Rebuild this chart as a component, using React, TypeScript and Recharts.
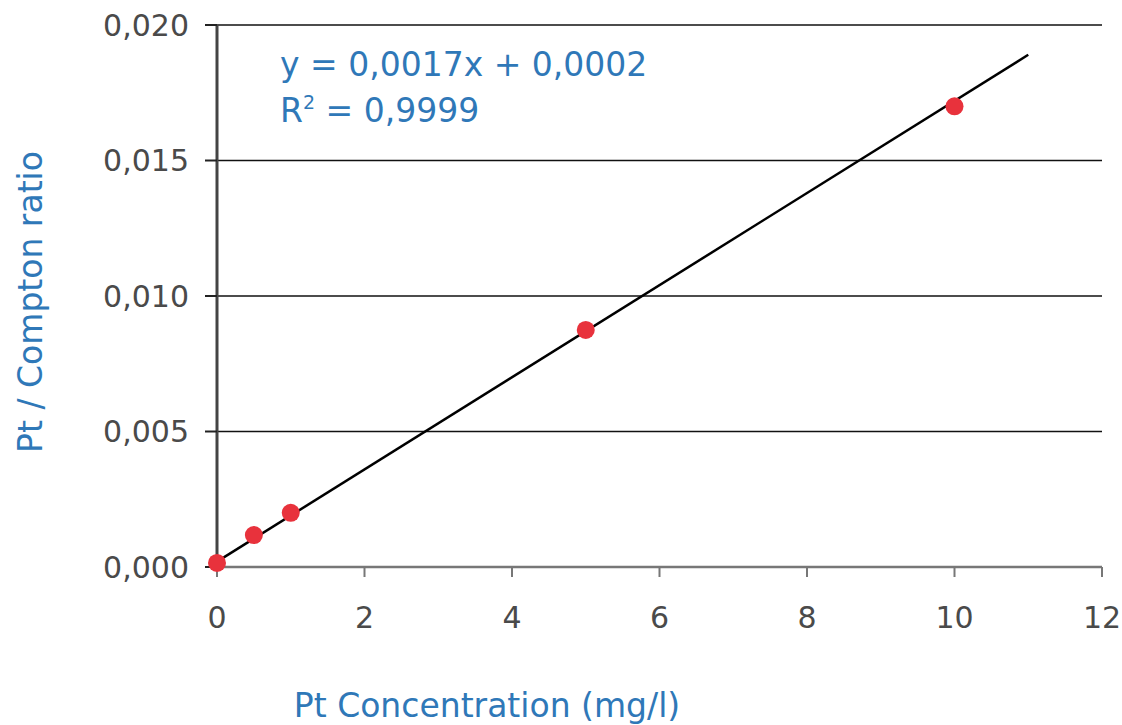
import {
  ComposedChart,
  Scatter,
  Line,
  XAxis,
  YAxis,
  CartesianGrid,
  Label,
} from "recharts";

// measured calibration points
const concentration = [0, 0.5, 1, 5, 10];
const ratio = [0.00015, 0.00118, 0.002, 0.00875, 0.017];

// linear fit drawn from x=0 to x=11
const fitX = [0, 11];
const fitY = [0.0002, 0.0189];

const xTicks = [0, 2, 4, 6, 8, 10, 12];
const yTicks = [0, 0.005, 0.01, 0.015, 0.02];

const equationText = "y = 0,0017x + 0,0002";
const r2Value = "0,9999";

const BLUE = "#2f78b8";
const FONT = "DejaVu Sans";

const points = concentration.map((x, i) => ({ x, y: ratio[i] }));
const fitLine = fitX.map((x, i) => ({ x, y: fitY[i] }));

function fmtY(v: number) {
  return v.toFixed(3).replace(".", ",");
}

function Dot(props: any) {
  const { cx, cy } = props;
  return <circle cx={cx} cy={cy} r={9} fill="#e8323c" />;
}

export default function App() {
  const tick = { fontSize: 30, fill: "#4a4a4a", fontFamily: FONT };
  return (
    <div style={{ position: "relative", width: 1122, height: 725, background: "#fff" }}>
      <style>{`body{margin:0}`}</style>
      <ComposedChart
        width={1122}
        height={725}
        margin={{ top: 25, right: 20, bottom: 0, left: 0 }}
      >
        <CartesianGrid vertical={false} stroke="#111" strokeWidth={1.6} />
        <XAxis
          type="number"
          dataKey="x"
          domain={[0, 12]}
          ticks={xTicks}
          height={158}
          tick={tick}
          tickSize={10}
          tickMargin={30}
          stroke="#777"
          strokeWidth={2.5}
          tickLine={{ stroke: "#777", strokeWidth: 2 }}
        >
          <Label
            content={(p: any) => {
              const vb = p.viewBox;
              return (
                <text
                  x={vb.x + 270}
                  y={vb.y + 138}
                  textAnchor="middle"
                  dominantBaseline="central"
                  fill={BLUE}
                  fontSize={33}
                  fontFamily={FONT}
                >
                  Pt Concentration (mg/l)
                </text>
              );
            }}
          />
        </XAxis>
        <XAxis
          xAxisId="top"
          orientation="top"
          type="number"
          domain={[0, 12]}
          height={0}
          tick={false}
          tickLine={false}
          stroke="#8a8a8a"
          strokeWidth={3}
        />
        <YAxis
          type="number"
          dataKey="y"
          domain={[0, 0.02]}
          ticks={yTicks}
          width={217}
          tick={tick}
          tickFormatter={fmtY}
          tickSize={12}
          tickMargin={16}
          stroke="#444"
          strokeWidth={3}
          tickLine={{ stroke: "#222", strokeWidth: 2 }}
        >
          <Label
            content={(p: any) => {
              const vb = p.viewBox;
              const cy = vb.y + vb.height / 2 + 6;
              return (
                <text
                  x={30}
                  y={cy}
                  transform={`rotate(-90 30 ${cy})`}
                  textAnchor="middle"
                  dominantBaseline="central"
                  fill={BLUE}
                  fontSize={33}
                  fontFamily={FONT}
                >
                  Pt / Compton ratio
                </text>
              );
            }}
          />
        </YAxis>
        <YAxis
          yAxisId="right"
          orientation="right"
          type="number"
          domain={[0, 0.02]}
          width={0}
          tick={false}
          tickLine={false}
          stroke="#8a8a8a"
          strokeWidth={3}
        />
        <Scatter data={points} shape={<Dot />} isAnimationActive={false} />
        <Line
          data={fitLine}
          dataKey="y"
          type="linear"
          stroke="#000"
          strokeWidth={2.5}
          dot={false}
          activeDot={false}
          isAnimationActive={false}
        />
      </ComposedChart>
      <div
        style={{
          position: "absolute",
          left: 280,
          top: 42,
          color: BLUE,
          fontSize: 33,
          fontFamily: FONT,
          lineHeight: "46px",
          whiteSpace: "nowrap",
        }}
      >
        <div>{equationText}</div>
        <div>
          R
          <span style={{ fontSize: 19, position: "relative", top: -13 }}>2</span>
          {" = " + r2Value}
        </div>
      </div>
    </div>
  );
}
